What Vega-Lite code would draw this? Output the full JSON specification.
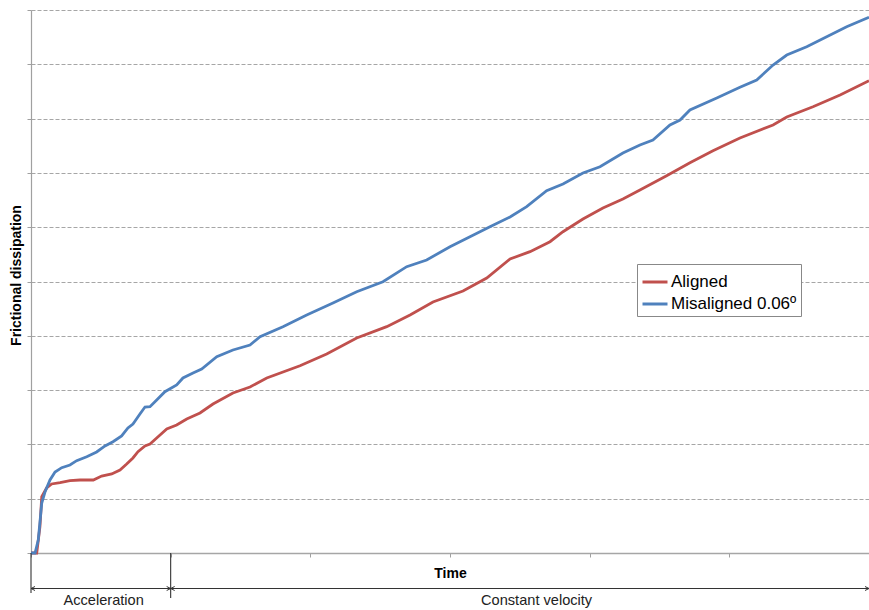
{
  "$schema": "https://vega.github.io/schema/vega-lite/v6.json",
  "width": 838,
  "height": 543,
  "autosize": {"type": "none"},
  "padding": {"left": 31, "top": 10, "right": 0, "bottom": 57},
  "background": "#ffffff",
  "config": {
    "font": "Liberation Sans",
    "view": {"stroke": null},
    "legend": {
      "orient": "none",
      "legendX": 606,
      "legendY": 254,
      "symbolType": "stroke",
      "symbolSize": 625,
      "symbolStrokeWidth": 3,
      "labelFontSize": 17,
      "labelFont": "Liberation Sans",
      "labelColor": "#000000",
      "padding": 4,
      "strokeColor": "#888888",
      "fillColor": "#ffffff",
      "rowPadding": -2,
      "labelOffset": 2,
      "labelLimit": 300
    }
  },
  "datasets": {
    "lines": [
      {"t": 0, "e": 0, "series": "Aligned"},
      {"t": 0.041, "e": 0, "series": "Aligned"},
      {"t": 0.064, "e": 0.484, "series": "Aligned"},
      {"t": 0.077, "e": 1.037, "series": "Aligned"},
      {"t": 0.112, "e": 1.197, "series": "Aligned"},
      {"t": 0.148, "e": 1.271, "series": "Aligned"},
      {"t": 0.208, "e": 1.295, "series": "Aligned"},
      {"t": 0.279, "e": 1.331, "series": "Aligned"},
      {"t": 0.351, "e": 1.344, "series": "Aligned"},
      {"t": 0.446, "e": 1.344, "series": "Aligned"},
      {"t": 0.506, "e": 1.418, "series": "Aligned"},
      {"t": 0.578, "e": 1.455, "series": "Aligned"},
      {"t": 0.637, "e": 1.529, "series": "Aligned"},
      {"t": 0.685, "e": 1.639, "series": "Aligned"},
      {"t": 0.73, "e": 1.75, "series": "Aligned"},
      {"t": 0.766, "e": 1.866, "series": "Aligned"},
      {"t": 0.816, "e": 1.971, "series": "Aligned"},
      {"t": 0.852, "e": 2.007, "series": "Aligned"},
      {"t": 0.9, "e": 2.118, "series": "Aligned"},
      {"t": 0.972, "e": 2.284, "series": "Aligned"},
      {"t": 1.043, "e": 2.357, "series": "Aligned"},
      {"t": 1.115, "e": 2.468, "series": "Aligned"},
      {"t": 1.21, "e": 2.578, "series": "Aligned"},
      {"t": 1.303, "e": 2.744, "series": "Aligned"},
      {"t": 1.446, "e": 2.947, "series": "Aligned"},
      {"t": 1.568, "e": 3.057, "series": "Aligned"},
      {"t": 1.688, "e": 3.223, "series": "Aligned"},
      {"t": 1.926, "e": 3.449, "series": "Aligned"},
      {"t": 2.117, "e": 3.665, "series": "Aligned"},
      {"t": 2.332, "e": 3.959, "series": "Aligned"},
      {"t": 2.547, "e": 4.168, "series": "Aligned"},
      {"t": 2.714, "e": 4.383, "series": "Aligned"},
      {"t": 2.878, "e": 4.622, "series": "Aligned"},
      {"t": 3.093, "e": 4.825, "series": "Aligned"},
      {"t": 3.263, "e": 5.064, "series": "Aligned"},
      {"t": 3.43, "e": 5.414, "series": "Aligned"},
      {"t": 3.573, "e": 5.549, "series": "Aligned"},
      {"t": 3.716, "e": 5.733, "series": "Aligned"},
      {"t": 3.809, "e": 5.917, "series": "Aligned"},
      {"t": 3.952, "e": 6.151, "series": "Aligned"},
      {"t": 4.095, "e": 6.354, "series": "Aligned"},
      {"t": 4.238, "e": 6.519, "series": "Aligned"},
      {"t": 4.36, "e": 6.685, "series": "Aligned"},
      {"t": 4.551, "e": 6.948, "series": "Aligned"},
      {"t": 4.718, "e": 7.188, "series": "Aligned"},
      {"t": 4.883, "e": 7.409, "series": "Aligned"},
      {"t": 5.076, "e": 7.643, "series": "Aligned"},
      {"t": 5.313, "e": 7.882, "series": "Aligned"},
      {"t": 5.411, "e": 8.029, "series": "Aligned"},
      {"t": 5.599, "e": 8.219, "series": "Aligned"},
      {"t": 5.793, "e": 8.435, "series": "Aligned"},
      {"t": 6.0, "e": 8.698, "series": "Aligned"},
      {"t": 0, "e": 0, "series": "Misaligned 0.06º"},
      {"t": 0.029, "e": 0, "series": "Misaligned 0.06º"},
      {"t": 0.052, "e": 0.239, "series": "Misaligned 0.06º"},
      {"t": 0.077, "e": 0.921, "series": "Misaligned 0.06º"},
      {"t": 0.1, "e": 1.123, "series": "Misaligned 0.06º"},
      {"t": 0.136, "e": 1.344, "series": "Misaligned 0.06º"},
      {"t": 0.172, "e": 1.492, "series": "Misaligned 0.06º"},
      {"t": 0.22, "e": 1.571, "series": "Misaligned 0.06º"},
      {"t": 0.279, "e": 1.621, "series": "Misaligned 0.06º"},
      {"t": 0.327, "e": 1.7, "series": "Misaligned 0.06º"},
      {"t": 0.399, "e": 1.773, "series": "Misaligned 0.06º"},
      {"t": 0.47, "e": 1.86, "series": "Misaligned 0.06º"},
      {"t": 0.53, "e": 1.971, "series": "Misaligned 0.06º"},
      {"t": 0.587, "e": 2.05, "series": "Misaligned 0.06º"},
      {"t": 0.649, "e": 2.155, "series": "Misaligned 0.06º"},
      {"t": 0.694, "e": 2.302, "series": "Misaligned 0.06º"},
      {"t": 0.73, "e": 2.376, "series": "Misaligned 0.06º"},
      {"t": 0.78, "e": 2.56, "series": "Misaligned 0.06º"},
      {"t": 0.816, "e": 2.689, "series": "Misaligned 0.06º"},
      {"t": 0.852, "e": 2.694, "series": "Misaligned 0.06º"},
      {"t": 0.9, "e": 2.818, "series": "Misaligned 0.06º"},
      {"t": 0.959, "e": 2.971, "series": "Misaligned 0.06º"},
      {"t": 1.043, "e": 3.094, "series": "Misaligned 0.06º"},
      {"t": 1.088, "e": 3.223, "series": "Misaligned 0.06º"},
      {"t": 1.16, "e": 3.315, "series": "Misaligned 0.06º"},
      {"t": 1.222, "e": 3.389, "series": "Misaligned 0.06º"},
      {"t": 1.33, "e": 3.615, "series": "Misaligned 0.06º"},
      {"t": 1.446, "e": 3.738, "series": "Misaligned 0.06º"},
      {"t": 1.568, "e": 3.831, "series": "Misaligned 0.06º"},
      {"t": 1.64, "e": 3.983, "series": "Misaligned 0.06º"},
      {"t": 1.804, "e": 4.168, "series": "Misaligned 0.06º"},
      {"t": 1.974, "e": 4.383, "series": "Misaligned 0.06º"},
      {"t": 2.162, "e": 4.604, "series": "Misaligned 0.06º"},
      {"t": 2.332, "e": 4.812, "series": "Misaligned 0.06º"},
      {"t": 2.52, "e": 4.996, "series": "Misaligned 0.06º"},
      {"t": 2.69, "e": 5.273, "series": "Misaligned 0.06º"},
      {"t": 2.833, "e": 5.396, "series": "Misaligned 0.06º"},
      {"t": 3.0, "e": 5.641, "series": "Misaligned 0.06º"},
      {"t": 3.143, "e": 5.825, "series": "Misaligned 0.06º"},
      {"t": 3.286, "e": 6.009, "series": "Misaligned 0.06º"},
      {"t": 3.43, "e": 6.188, "series": "Misaligned 0.06º"},
      {"t": 3.549, "e": 6.378, "series": "Misaligned 0.06º"},
      {"t": 3.692, "e": 6.672, "series": "Misaligned 0.06º"},
      {"t": 3.809, "e": 6.796, "series": "Misaligned 0.06º"},
      {"t": 3.952, "e": 6.998, "series": "Misaligned 0.06º"},
      {"t": 4.074, "e": 7.114, "series": "Misaligned 0.06º"},
      {"t": 4.238, "e": 7.366, "series": "Misaligned 0.06º"},
      {"t": 4.36, "e": 7.514, "series": "Misaligned 0.06º"},
      {"t": 4.453, "e": 7.606, "series": "Misaligned 0.06º"},
      {"t": 4.575, "e": 7.882, "series": "Misaligned 0.06º"},
      {"t": 4.647, "e": 7.974, "series": "Misaligned 0.06º"},
      {"t": 4.718, "e": 8.158, "series": "Misaligned 0.06º"},
      {"t": 4.91, "e": 8.379, "series": "Misaligned 0.06º"},
      {"t": 5.076, "e": 8.576, "series": "Misaligned 0.06º"},
      {"t": 5.196, "e": 8.711, "series": "Misaligned 0.06º"},
      {"t": 5.313, "e": 8.987, "series": "Misaligned 0.06º"},
      {"t": 5.411, "e": 9.171, "series": "Misaligned 0.06º"},
      {"t": 5.554, "e": 9.324, "series": "Misaligned 0.06º"},
      {"t": 5.697, "e": 9.508, "series": "Misaligned 0.06º"},
      {"t": 5.84, "e": 9.692, "series": "Misaligned 0.06º"},
      {"t": 6.0, "e": 9.866, "series": "Misaligned 0.06º"}
    ],
    "phases": [
      {"phase": "Acceleration", "t": 0, "t2": 1, "mid": 0.52, "base": 0, "drop": -0.737, "arrow": -0.654, "label": -0.884},
      {"phase": "Constant velocity", "t": 1, "t2": 6, "mid": 3.62, "base": 0, "drop": -0.83, "arrow": -0.654, "label": -0.884}
    ]
  },
  "layer": [
    {
      "data": {"name": "lines"},
      "mark": {"type": "line", "strokeWidth": 2.8, "interpolate": "linear"},
      "encoding": {
        "x": {
          "field": "t",
          "type": "quantitative",
          "scale": {"domain": [0, 6], "nice": false, "zero": false},
          "axis": {
            "title": "Time",
            "titleFontSize": 14,
            "titleFontWeight": "bold",
            "titleColor": "#000000",
            "titlePadding": 9,
            "labels": false,
            "values": [0, 1, 2, 3, 4, 5, 6],
            "tickSize": 4,
            "tickColor": "#a0a0a0",
            "domainColor": "#a6a6a6",
            "domainWidth": 1.5,
            "grid": false
          }
        },
        "y": {
          "field": "e",
          "type": "quantitative",
          "scale": {"domain": [0, 10], "nice": false, "zero": false},
          "axis": {
            "title": "Frictional dissipation",
            "titleFontSize": 14,
            "titleFontWeight": "bold",
            "titleColor": "#000000",
            "titlePadding": 3,
            "titleY": 265,
            "labels": false,
            "values": [0, 1, 2, 3, 4, 5, 6, 7, 8, 9, 10],
            "tickSize": 4,
            "tickColor": "#a0a0a0",
            "domainColor": "#a0a0a0",
            "domainWidth": 1.2,
            "grid": true,
            "gridColor": "#a6a6a6",
            "gridDash": [4, 2],
            "gridWidth": 1
          }
        },
        "color": {
          "field": "series",
          "type": "nominal",
          "scale": {"domain": ["Aligned", "Misaligned 0.06º"], "range": ["#C0504D", "#4F81BD"]},
          "legend": {"title": null}
        }
      }
    },
    {
      "data": {"name": "phases"},
      "mark": {"type": "rule", "color": "#333333", "strokeWidth": 1.1},
      "encoding": {
        "x": {"field": "t", "type": "quantitative"},
        "y": {"field": "base", "type": "quantitative"},
        "y2": {"field": "drop"}
      }
    },
    {
      "data": {"name": "phases"},
      "mark": {"type": "rule", "color": "#333333", "strokeWidth": 1},
      "encoding": {
        "x": {"field": "t", "type": "quantitative"},
        "x2": {"field": "t2"},
        "y": {"field": "arrow", "type": "quantitative"}
      }
    },
    {
      "data": {"name": "phases"},
      "mark": {"type": "point", "shape": "M0,0L2,-1M0,0L2,1", "filled": false, "stroke": "#333333", "strokeWidth": 1, "size": 16, "opacity": 1},
      "encoding": {
        "x": {"field": "t", "type": "quantitative"},
        "y": {"field": "arrow", "type": "quantitative"}
      }
    },
    {
      "data": {"name": "phases"},
      "mark": {"type": "point", "shape": "M0,0L-2,-1M0,0L-2,1", "filled": false, "stroke": "#333333", "strokeWidth": 1, "size": 16, "opacity": 1},
      "encoding": {
        "x": {"field": "t2", "type": "quantitative"},
        "y": {"field": "arrow", "type": "quantitative"}
      }
    },
    {
      "data": {"name": "phases"},
      "mark": {"type": "text", "fontSize": 14.6, "color": "#222222", "baseline": "middle", "align": "center"},
      "encoding": {
        "x": {"field": "mid", "type": "quantitative"},
        "y": {"field": "label", "type": "quantitative"},
        "text": {"field": "phase"}
      }
    }
  ]
}
